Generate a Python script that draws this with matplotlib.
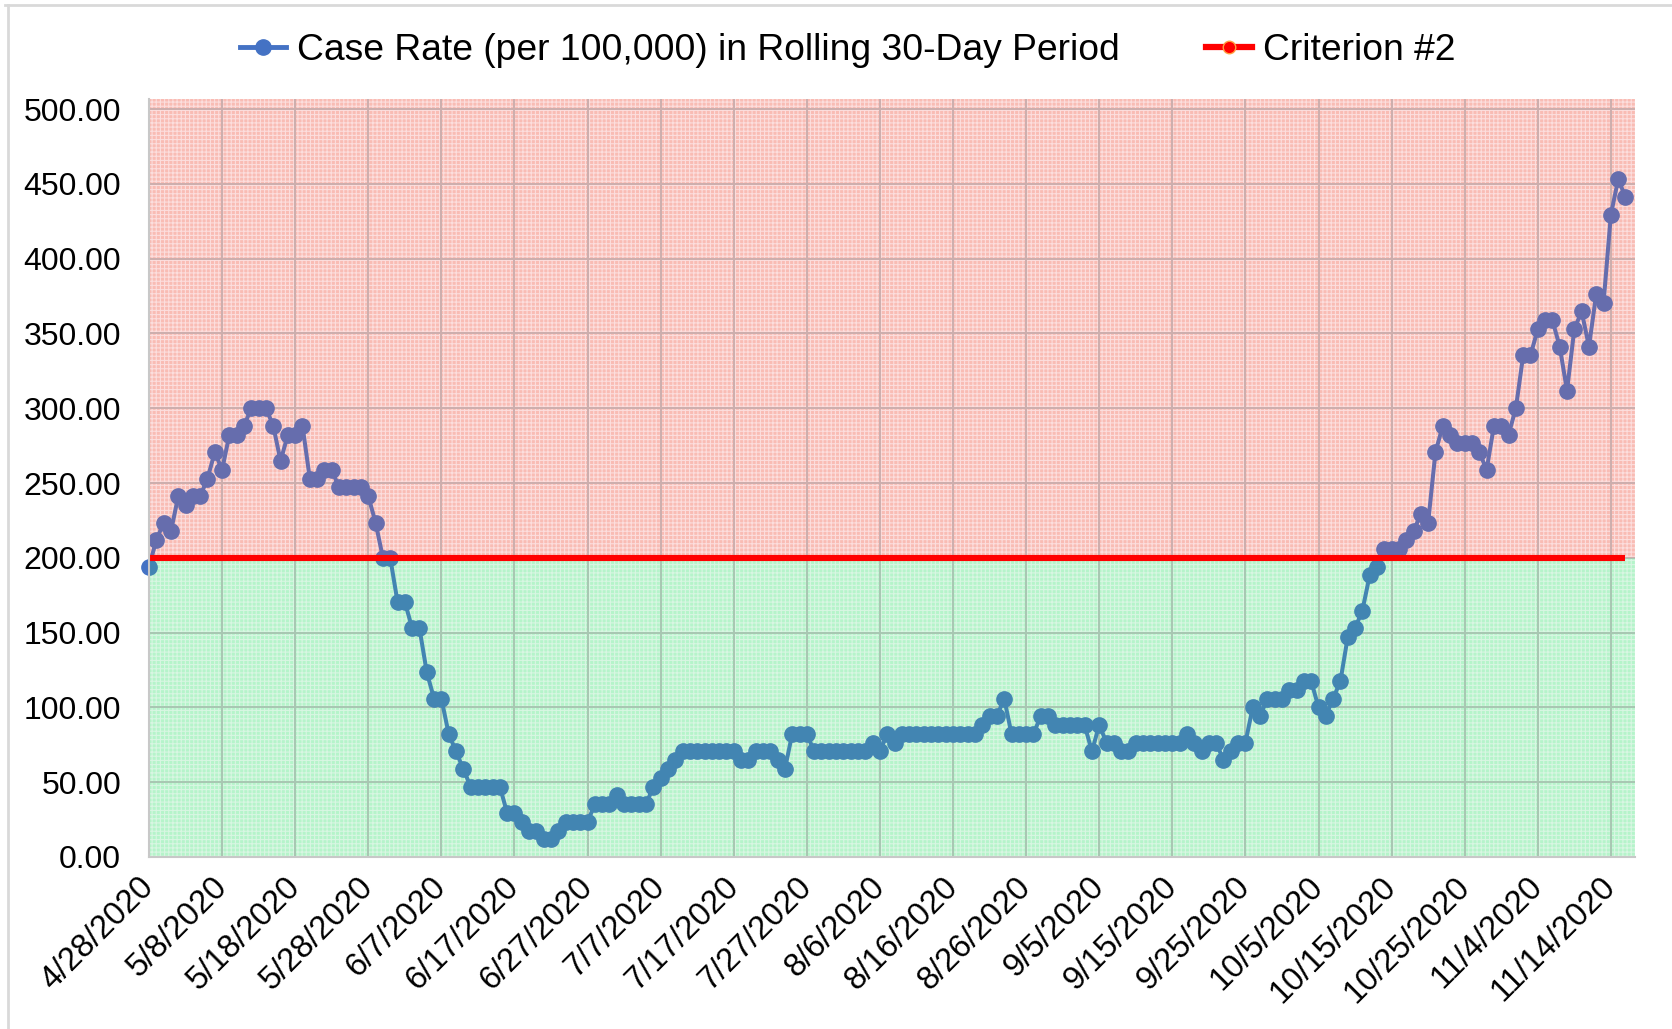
# Case rate in rolling 30-day period vs criterion #2
import matplotlib
matplotlib.use("Agg")
import matplotlib.pyplot as plt
from matplotlib.lines import Line2D
import numpy as np
import pandas as pd

plt.rcParams['font.family'] = ['Liberation Sans', 'DejaVu Sans']
plt.rcParams['hatch.color'] = 'white'
plt.rcParams['hatch.linewidth'] = 0.8

start_date = '2020-04-28'

case_rate = [
    194.12, 211.76, 223.53, 217.65, 241.18, 235.29, 241.18, 241.18, 252.94, 270.59,
    258.82, 282.35, 282.35, 288.24, 300.00, 300.00, 300.00, 288.24, 264.71, 282.35,
    282.35, 288.24, 252.94, 252.94, 258.82, 258.82, 247.06, 247.06, 247.06, 247.06,
    241.18, 223.53, 200.00, 200.00, 170.59, 170.59, 152.94, 152.94, 123.53, 105.88,
    105.88, 82.35, 70.59, 58.82, 47.06, 47.06, 47.06, 47.06, 47.06, 29.41,
    29.41, 23.53, 17.65, 17.65, 11.76, 11.76, 17.65, 23.53, 23.53, 23.53,
    23.53, 35.29, 35.29, 35.29, 41.18, 35.29, 35.29, 35.29, 35.29, 47.06,
    52.94, 58.82, 64.71, 70.59, 70.59, 70.59, 70.59, 70.59, 70.59, 70.59,
    70.59, 64.71, 64.71, 70.59, 70.59, 70.59, 64.71, 58.82, 82.35, 82.35,
    82.35, 70.59, 70.59, 70.59, 70.59, 70.59, 70.59, 70.59, 70.59, 76.47,
    70.59, 82.35, 76.47, 82.35, 82.35, 82.35, 82.35, 82.35, 82.35, 82.35,
    82.35, 82.35, 82.35, 82.35, 88.24, 94.12, 94.12, 105.88, 82.35, 82.35,
    82.35, 82.35, 94.12, 94.12, 88.24, 88.24, 88.24, 88.24, 88.24, 70.59,
    88.24, 76.47, 76.47, 70.59, 70.59, 76.47, 76.47, 76.47, 76.47, 76.47,
    76.47, 76.47, 82.35, 76.47, 70.59, 76.47, 76.47, 64.71, 70.59, 76.47,
    76.47, 100.00, 94.12, 105.88, 105.88, 105.88, 111.76, 111.76, 117.65, 117.65,
    100.00, 94.12, 105.88, 117.65, 147.06, 152.94, 164.71, 188.24, 194.12, 205.88,
    205.88, 205.88, 211.76, 217.65, 229.41, 223.53, 270.59, 288.24, 282.35, 276.47,
    276.47, 276.47, 270.59, 258.82, 288.24, 288.24, 282.35, 300.00, 335.29, 335.29,
    352.94, 358.82, 358.82, 341.18, 311.76, 352.94, 364.71, 341.18, 376.47, 370.59,
    429.41, 452.94, 441.18,
]
criterion_value = 200.0

dates = pd.date_range(start_date, periods=len(case_rate), freq='D')
x = np.arange(len(case_rate))
criterion = [criterion_value] * len(case_rate)

tick_idx = x[::10]
tick_labels = [f"{d.month}/{d.day}/{d.year}" for d in dates[::10]]
y_ticks = np.arange(0, 501, 50)

fig = plt.figure(figsize=(16.72, 10.29), dpi=100)
ax = fig.add_axes([149 / 1672, 1 - 857 / 1029, (1635 - 149) / 1672, (857 - 99) / 1029])

x_max = 203.3
y_top = 506.7
xf = [0, x_max]

# shaded zones (behind the line)
ax.fill_between(xf, 0, criterion_value, facecolor='#d4fde2', edgecolor='white',
                hatch='++++', linewidth=0, zorder=0)
ax.fill_between(xf, criterion_value, y_top, facecolor='#fcd5cc', edgecolor='white',
                hatch='++++', linewidth=0, zorder=0)

ax.set_axisbelow(True)
ax.grid(True, color='#c4c4c4', linewidth=1.4)

ax.plot(x, case_rate, color='#4472C4', linewidth=2.9, marker='o', markersize=11,
        zorder=2, clip_on=False)

# pattern tint over the line
ax.fill_between(xf, 0, criterion_value, color='#3cd26e', alpha=0.2, linewidth=0, zorder=3)
ax.fill_between(xf, criterion_value, y_top, color='#f05a55', alpha=0.2, linewidth=0, zorder=3)

ax.plot(x, criterion, color='#ff0000', linewidth=4.4, zorder=4, solid_capstyle='butt')

ax.set_xlim(0, x_max)
ax.set_ylim(0, y_top)
ax.set_yticks(y_ticks)
ax.set_yticklabels([f"{v:.2f}" for v in y_ticks])
ax.set_xticks(tick_idx)
ax.set_xticklabels(tick_labels, rotation=45, ha='right', va='center', rotation_mode='anchor')
ax.tick_params(axis='both', length=0, colors='black')
ax.tick_params(axis='y', pad=20, labelsize=23)
ax.tick_params(axis='x', pad=18, labelsize=23.5)

for side in ['top', 'right']:
    ax.spines[side].set_visible(False)
for side in ['left', 'bottom']:
    ax.spines[side].set_color('#c8c8c8')
    ax.spines[side].set_linewidth(1.5)
    ax.spines[side].set_zorder(5)

handles = [
    Line2D([], [], color='#4472C4', linewidth=3.5, marker='o', markersize=11),
    Line2D([], [], color='#ff0000', linewidth=4.5, marker='o', markersize=9,
           markerfacecolor='#ff0000', markeredgecolor='#ffa040'),
]
labels = ['Case Rate (per 100,000) in Rolling 30-Day Period', 'Criterion #2']
fig.legend(handles, labels, loc='center', bbox_to_anchor=(0.507, 1 - 51 / 1029), ncol=2,
           frameon=False, fontsize=26.8, handlelength=1.25, handletextpad=0.3,
           columnspacing=2.3)

# outer chart border
fig.add_artist(Line2D([5 / 1672, 1], [1 - 5 / 1029, 1 - 5 / 1029], color='#d9d9d9', linewidth=2,
                      transform=fig.transFigure))
fig.add_artist(Line2D([8 / 1672, 8 / 1672], [0, 1 - 5 / 1029], color='#d9d9d9', linewidth=2,
                      transform=fig.transFigure))

fig.savefig('out.png', dpi=100, facecolor='white')
